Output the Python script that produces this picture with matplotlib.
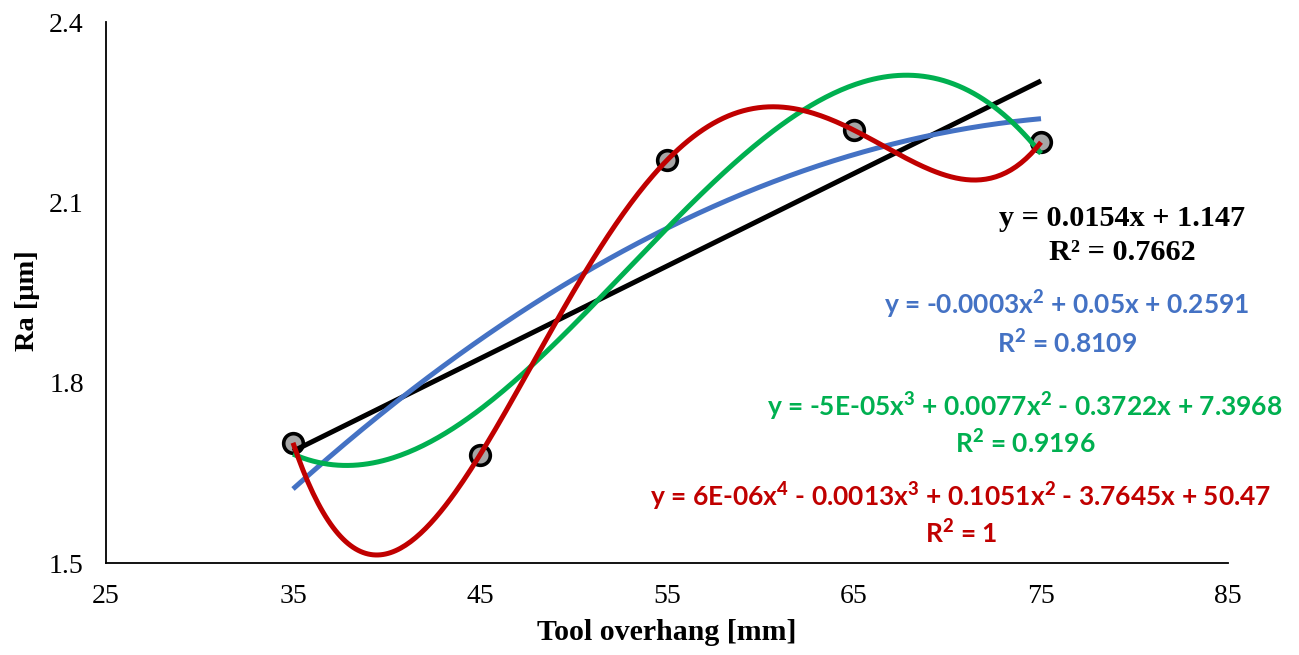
import numpy as np
import matplotlib
matplotlib.use("Agg")
import matplotlib.pyplot as plt

# tool overhang [mm] vs surface roughness Ra [um]
overhang = [35, 45, 55, 65, 75]
ra = [1.70, 1.68, 2.17, 2.22, 2.20]

fits = [
    (1, "#000000", "y = 0.0154x + 1.147", "R² = 0.7662"),
    (2, "#4472C4", r"y = -0.0003x$^\mathbf{2}$ + 0.05x + 0.2591", r"R$^\mathbf{2}$ = 0.8109"),
    (3, "#00B050", r"y = -5E-05x$^\mathbf{3}$ + 0.0077x$^\mathbf{2}$ - 0.3722x + 7.3968",
     r"R$^\mathbf{2}$ = 0.9196"),
    (4, "#C00000", r"y = 6E-06x$^\mathbf{4}$ - 0.0013x$^\mathbf{3}$ + 0.1051x$^\mathbf{2}$ - 3.7645x + 50.47",
     r"R$^\mathbf{2}$ = 1"),
]

plt.rcParams["mathtext.fontset"] = "custom"
plt.rcParams["mathtext.rm"] = "Lato:bold"
plt.rcParams["mathtext.it"] = "Lato:bold"
plt.rcParams["mathtext.bf"] = "Lato:black"

serif = "Liberation Serif"
eqfont = ["Lato", "DejaVu Sans"]

fig = plt.figure(figsize=(12.99, 6.55), dpi=100)
ax = fig.add_axes([106 / 1299, 1 - 563 / 655, (1228 - 106) / 1299, (563 - 22) / 655])

ax.scatter(overhang, ra, s=200, facecolor="#A6A6A6", edgecolor="black",
           linewidth=2.6, zorder=2)

xs = np.linspace(min(overhang), max(overhang), 300)
for deg, col, eq, r2 in fits:
    c = np.polyfit(overhang, ra, deg)
    ax.plot(xs, np.polyval(c, xs), color=col, lw=3.6, zorder=3 + deg,
            solid_capstyle="butt")

ax.set_xlim(25, 85)
ax.set_ylim(1.5, 2.4)
ax.set_xticks([25, 35, 45, 55, 65, 75, 85])
ax.set_yticks([1.5, 1.8, 2.1, 2.4])
for s in ["top", "right"]:
    ax.spines[s].set_visible(False)
for s in ["left", "bottom"]:
    ax.spines[s].set_linewidth(1.3)
ax.tick_params(axis="y", length=0, pad=16, labelsize=20)
ax.tick_params(axis="x", length=0, pad=15, labelsize=20)
for t in ax.get_xticklabels() + ax.get_yticklabels():
    t.set_fontfamily(serif)

ax.set_xlabel("Tool overhang [mm]", fontfamily=serif, fontweight="bold",
              fontsize=21.5)
ax.set_ylabel("Ra [μm]", fontfamily=serif, fontweight="bold", fontsize=20.5)
ax.xaxis.set_label_coords((667 - 106) / 1122, -(632 - 563) / 541)
ax.yaxis.set_label_coords(-(106 - 27) / 1122, (563 - 301) / 541)
ax.xaxis.label.set_va("center")
ax.yaxis.label.set_va("center")

# trendline equations
pos = [(1122, 218, 252), (1067, 305, 343), (1025, 407, 443), (961, 497, 533)]
for (deg, col, eq, r2), (px, py1, py2) in zip(fits, pos):
    if deg == 1:
        kw = dict(fontfamily=serif, fontsize=21.8)
    else:
        kw = dict(family=eqfont, fontsize=19)
    fig.text(px / 1299, 1 - py1 / 655, eq, color=col, fontweight="bold",
             ha="center", va="center", **kw)
    fig.text(px / 1299, 1 - py2 / 655, r2, color=col, fontweight="bold",
             ha="center", va="center", **kw)

fig.savefig("out.png", dpi=100)
